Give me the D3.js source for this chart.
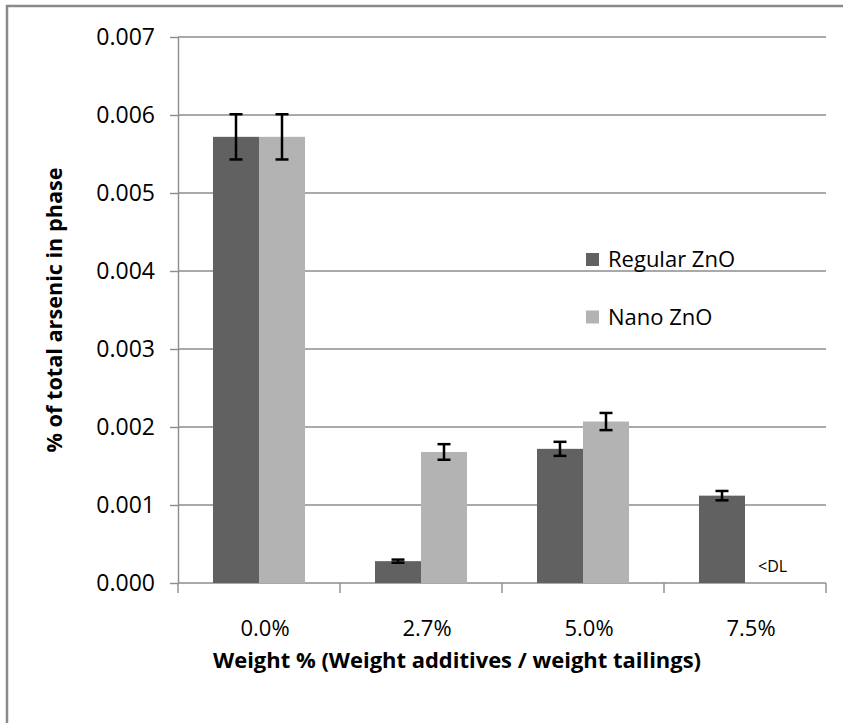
<!DOCTYPE html>
<html>
<head>
<meta charset="utf-8">
<script src="https://cdn.jsdelivr.net/npm/d3@7"></script>
<style>
  html, body { margin: 0; padding: 0; background: #fff; }
  svg { display: block; }
  text { font-family: "Open Sans", "DejaVu Sans", sans-serif; fill: #000; }
</style>
</head>
<body>
<svg id="chart" width="843" height="723"></svg>
<script>
// ---- Data ----
const categories = ["0.0%", "2.7%", "5.0%", "7.5%"];
const seriesNames = ["Regular ZnO", "Nano ZnO"];
const regularValues = [0.00572, 0.00028, 0.00172, 0.00112];
const nanoValues = [0.00572, 0.00168, 0.00207, null];
const regularErrors = [0.00029, 0.00002, 0.00009, 0.00006];
const nanoErrors = [0.00029, 0.00010, 0.00011, null];
const yTicks = [0, 0.001, 0.002, 0.003, 0.004, 0.005, 0.006, 0.007];
const belowDLLabel = "<DL";
const xTitle = "Weight % (Weight additives / weight tailings)";
const yTitle = "% of total arsenic in phase";
const seriesColors = ["#616161", "#b3b3b3"];

// ---- Layout ----
const svg = d3.select("#chart");
const plot = { left: 178, right: 826, top: 37, bottom: 583 };

const x = d3.scaleBand().domain(categories).range([plot.left, plot.right]).padding(0);
const y = d3.scaleLinear().domain([0, 0.007]).range([plot.bottom, plot.top]);
const barW = x.bandwidth() * 0.284;
const xSub = d3.scaleBand().domain(seriesNames)
  .range([-barW, barW]).padding(0);

// Frame (top and left border)
svg.append("line").attr("x1", 6).attr("x2", 843).attr("y1", 6).attr("y2", 6)
  .attr("stroke", "#8a8a8a").attr("stroke-width", 2.5);
svg.append("line").attr("x1", 7).attr("x2", 7).attr("y1", 5).attr("y2", 723)
  .attr("stroke", "#8a8a8a").attr("stroke-width", 2.5);

// Gridlines
svg.append("g").selectAll("line").data(yTicks.filter(d => d > 0)).join("line")
  .attr("x1", plot.left).attr("x2", plot.right)
  .attr("y1", d => y(d)).attr("y2", d => y(d))
  .attr("stroke", "#8c8c8c").attr("stroke-width", 1.4);

// Y axis
const yAxis = d3.axisLeft(y).tickValues(yTicks).tickFormat(d3.format(".3f"))
  .tickSizeInner(8).tickSizeOuter(0).tickPadding(15);
const gy = svg.append("g").attr("transform", `translate(${plot.left},0)`).call(yAxis);
gy.select(".domain").attr("stroke", "#8c8c8c").attr("stroke-width", 1.4);
gy.selectAll(".tick line").attr("stroke", "#8c8c8c").attr("stroke-width", 1.4);
gy.selectAll(".tick text").attr("font-size", 23).attr("fill", "#000")
  .attr("font-family", "'Open Sans', sans-serif");

// X axis
const gx = svg.append("g").attr("transform", `translate(0,${plot.bottom})`)
  .call(d3.axisBottom(x).tickSize(0).tickPadding(0));
gx.select(".domain").remove();
gx.selectAll(".tick text").attr("font-size", 22).attr("fill", "#000")
  .attr("font-family", "'Open Sans', sans-serif")
  .attr("dy", 0).attr("y", 53).attr("dx", 6);
// category boundary ticks
const boundaries = categories.map(c => x(c)).concat([x(categories[categories.length - 1]) + x.bandwidth()]);
svg.append("g").selectAll("line").data(boundaries).join("line")
  .attr("x1", d => d).attr("x2", d => d)
  .attr("y1", plot.bottom).attr("y2", plot.bottom + 10)
  .attr("stroke", "#8c8c8c").attr("stroke-width", 1.4);
svg.append("line").attr("x1", plot.left).attr("x2", plot.right)
  .attr("y1", plot.bottom).attr("y2", plot.bottom)
  .attr("stroke", "#8c8c8c").attr("stroke-width", 1.4);

// Bars
const rows = categories.map((c, i) => ({
  cat: c,
  vals: [
    { s: seriesNames[0], v: regularValues[i], e: regularErrors[i], color: seriesColors[0] },
    { s: seriesNames[1], v: nanoValues[i], e: nanoErrors[i], color: seriesColors[1] }
  ]
}));

const groups = svg.append("g").selectAll("g").data(rows).join("g")
  .attr("transform", d => `translate(${x(d.cat) + x.bandwidth() / 2},0)`);

groups.selectAll("rect").data(d => d.vals.filter(v => v.v != null)).join("rect")
  .attr("x", d => xSub(d.s))
  .attr("width", xSub.bandwidth())
  .attr("y", d => y(d.v))
  .attr("height", d => y(0) - y(d.v))
  .attr("fill", d => d.color);

// Error bars
const capW = 13;
const eb = groups.selectAll("g.err").data(d => d.vals.filter(v => v.v != null && v.e != null)).join("g")
  .attr("class", "err");
eb.append("line")
  .attr("x1", d => xSub(d.s) + xSub.bandwidth() / 2).attr("x2", d => xSub(d.s) + xSub.bandwidth() / 2)
  .attr("y1", d => y(d.v + d.e)).attr("y2", d => y(d.v - d.e))
  .attr("stroke", "#000").attr("stroke-width", 2.5);
eb.append("line")
  .attr("x1", d => xSub(d.s) + xSub.bandwidth() / 2 - capW / 2).attr("x2", d => xSub(d.s) + xSub.bandwidth() / 2 + capW / 2)
  .attr("y1", d => y(d.v + d.e)).attr("y2", d => y(d.v + d.e))
  .attr("stroke", "#000").attr("stroke-width", 2.5);
eb.append("line")
  .attr("x1", d => xSub(d.s) + xSub.bandwidth() / 2 - capW / 2).attr("x2", d => xSub(d.s) + xSub.bandwidth() / 2 + capW / 2)
  .attr("y1", d => y(d.v - d.e)).attr("y2", d => y(d.v - d.e))
  .attr("stroke", "#000").attr("stroke-width", 2.5);

// <DL label for missing nano value
const dlIdx = nanoValues.findIndex(v => v == null);
if (dlIdx >= 0) {
  svg.append("text")
    .attr("x", x(categories[dlIdx]) + x.bandwidth() / 2 + xSub(seriesNames[1]) + 13)
    .attr("y", y(0) - 11)
    .attr("font-size", 16)
    .text(belowDLLabel);
}

// Legend
const legend = svg.append("g");
const legendY = [259.5, 317];
seriesNames.forEach((name, i) => {
  legend.append("rect").attr("x", 586).attr("y", legendY[i] - 6.5).attr("width", 13).attr("height", 13)
    .attr("fill", seriesColors[i]);
  legend.append("text").attr("x", 608).attr("y", legendY[i] + 7.5)
    .attr("font-size", 22).text(name);
});

// Axis titles
svg.append("text")
  .attr("x", 457).attr("y", 668)
  .attr("text-anchor", "middle")
  .attr("font-size", 21).attr("font-weight", "bold")
  .attr("textLength", 488).attr("lengthAdjust", "spacingAndGlyphs")
  .text(xTitle);

svg.append("text")
  .attr("transform", "translate(62,310) rotate(-90)")
  .attr("text-anchor", "middle")
  .attr("font-size", 21).attr("font-weight", "bold")
  .attr("textLength", 285).attr("lengthAdjust", "spacingAndGlyphs")
  .text(yTitle);
</script>
</body>
</html>
